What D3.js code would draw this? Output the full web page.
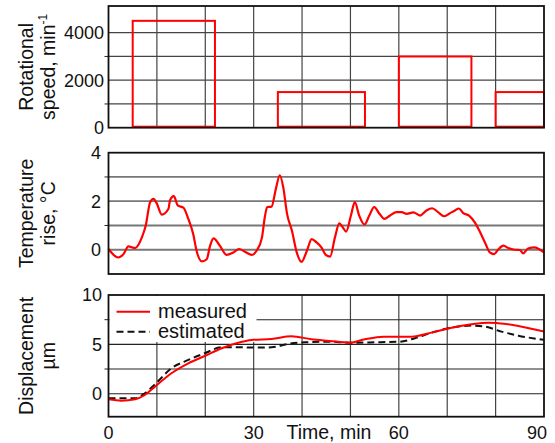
<!DOCTYPE html>
<html><head><meta charset="utf-8">
<script src="https://cdn.jsdelivr.net/npm/d3@7"></script>
<style>body{margin:0;background:#fff}svg{display:block;font-family:"Liberation Sans",Arial,sans-serif}</style>
</head><body><svg id="c" width="555" height="443"></svg>
<script>
// ---- data ----
const barStart = [5, 35, 60, 80];
const barEnd = [22, 53, 75, 90];
const barSpeed = [4500, 1500, 3000, 1500];

const tempTime = [0,2.0,3.1,4.1,5.5,6.9,7.7,8.6,9.3,10.0,11.0,12.4,12.7,13.5,14.3,15.5,16.5,17.5,18.2,19.3,20.3,21.0,21.7,23.0,24.4,25.8,27.0,28.2,29.6,30.6,31.7,32.3,32.8,33.7,34.6,35.4,36.1,36.9,37.9,38.9,39.9,41.0,42.0,43.0,44.0,44.9,45.8,46.8,47.7,48.4,49.1,50.1,50.9,51.8,52.9,53.9,54.9,56.0,57.0,58.2,59.5,60.6,61.6,63.0,64.4,65.7,66.9,68.1,69.4,70.6,71.6,72.4,73.3,74.5,75.7,76.8,77.8,78.8,79.7,80.5,81.6,82.6,84.0,85.0,85.7,86.7,88.1,89.2,90];
const tempRise = [0.03,-0.32,-0.18,0.14,0.07,0.51,1.0,1.96,2.1,1.9,1.45,1.69,2.03,2.21,1.83,1.73,1.27,0.65,-0.04,-0.48,-0.39,0.17,0.47,0.17,-0.21,-0.11,0.03,-0.08,-0.21,-0.04,0.49,1.34,1.76,1.78,2.52,3.07,2.59,1.48,0.79,-0.11,-0.5,-0.04,0.44,0.3,0.1,-0.21,-0.28,0.51,1.09,0.93,0.75,1.41,1.96,1.41,1.04,1.41,1.76,1.48,1.27,1.41,1.55,1.55,1.48,1.54,1.41,1.62,1.71,1.55,1.38,1.51,1.62,1.7,1.51,1.41,1.13,0.72,0.3,-0.11,-0.18,0,0.17,0.07,0,-0.01,-0.15,0.05,0.1,0,-0.11];

const measTime = [0,2.7,5.5,7.5,9.6,13.0,16.5,19.9,23.4,26.8,29.6,33.7,37.8,41.9,45.7,49.9,53.0,56.8,62.6,66.8,70.9,75.0,78.5,80.5,84.7,90];
const measDisp = [-0.57,-0.71,-0.57,-0.13,0.71,2.07,3.08,3.82,4.6,5.17,5.45,5.55,5.82,5.52,5.35,5.17,5.52,5.78,5.78,6.19,6.69,7.04,7.2,7.14,6.87,6.3];
const estTime = [0,5.5,7.5,9.6,13.0,16.5,19.9,23.4,26.8,30.3,33.7,37.1,40.6,45.7,49.9,55.0,60.2,63.3,66.8,70.9,75.0,77.8,81.2,84.7,90];
const estDisp = [-0.47,-0.47,0.04,0.95,2.57,3.42,4.1,4.7,4.7,4.67,4.7,5.04,5.21,5.27,5.17,5.21,5.27,5.62,6.19,6.7,6.9,6.8,6.29,5.88,5.45];

const xTickLabels = ["0", "30", "60", "90"];
const speedTicks = [0, 2000, 4000];
const tempTicks = [0, 2, 4];
const dispTicks = [0, 5, 10];
const legendLabels = ["measured", "estimated"];

// ---- layout ----
const svg = d3.select("#c");
const L = 108.5, R = 544;
const x = d3.scaleLinear().domain([0, 90]).range([L, R]);
const ySpeed = d3.scaleLinear().domain([0, 5125]).range([127.7, 6]);
const yTemp = d3.scaleLinear().domain([-1, 4]).range([274, 152.7]);
const yDisp = d3.scaleLinear().domain([-2.33, 10]).range([416.7, 295]);
const FS = 18;

function vgrid(y) {
  svg.append("g").selectAll("line").data(d3.range(10, 90, 10)).join("line")
    .attr("x1", d => x(d)).attr("x2", d => x(d))
    .attr("y1", y.range()[1]).attr("y2", y.range()[0])
    .attr("stroke", "#444").attr("stroke-width", 1.2);
}
function hgrid(y, vals, color, w) {
  svg.append("g").selectAll("line").data(vals).join("line")
    .attr("x1", L).attr("x2", R)
    .attr("y1", d => y(d)).attr("y2", d => y(d))
    .attr("stroke", color).attr("stroke-width", w);
}
function yaxis(y, minor, labels, fmt, labelX) {
  svg.append("g").selectAll("line").data(minor).join("line")
    .attr("x1", L - 4).attr("x2", L)
    .attr("y1", d => y(d)).attr("y2", d => y(d))
    .attr("stroke", "#222").attr("stroke-width", 1);
  svg.append("g").selectAll("text").data(labels).join("text")
    .attr("x", labelX).attr("y", d => y(d)).attr("dy", "0.36em")
    .attr("text-anchor", "end").attr("font-size", FS).attr("fill", "#111")
    .text(fmt);
}
function frame(y) {
  svg.append("rect").attr("x", L).attr("y", y.range()[1])
    .attr("width", R - L).attr("height", y.range()[0] - y.range()[1])
    .attr("fill", "none").attr("stroke", "#111").attr("stroke-width", 1.8);
}
function ytitle(lines, y) {
  const cy = (y.range()[0] + y.range()[1]) / 2;
  const g = svg.append("g");
  lines.forEach((ln, i) => {
    const t = g.append("text").attr("transform", `translate(${33 + i * 22},${cy}) rotate(-90)`)
      .attr("text-anchor", "middle").attr("font-size", 19.5).attr("fill", "#111");
    ln.forEach(part => {
      const ts = t.append("tspan").text(part.t);
      if (part.sup) ts.attr("font-size", 12).attr("dy", -8);
    });
  });
}

// top panel
vgrid(ySpeed);
hgrid(ySpeed, [1000, 2000, 3000, 4000], "#444", 1.2);
yaxis(ySpeed, [1000, 3000], speedTicks, d => d, 104);
svg.append("g").selectAll("rect").data(barSpeed).join("rect")
  .attr("x", (d, i) => x(barStart[i])).attr("width", (d, i) => x(barEnd[i]) - x(barStart[i]))
  .attr("y", d => ySpeed(d)).attr("height", d => ySpeed(0) - 1 - ySpeed(d))
  .attr("fill", "none").attr("stroke", "#ff0000").attr("stroke-width", 2);
frame(ySpeed);
ytitle([[{t: "Rotational"}], [{t: "speed, min"}, {t: "-1", sup: true}]], ySpeed);

// middle panel
hgrid(yTemp, [0, 1, 2, 3], "#777", 1.8);
yaxis(yTemp, [1, 3], tempTicks, d => d, 101);
svg.append("path").datum(tempRise)
  .attr("d", d3.line().x((d, i) => x(tempTime[i])).y(d => yTemp(d)).curve(d3.curveMonotoneX))
  .attr("fill", "none").attr("stroke", "#ff0000").attr("stroke-width", 2.2);
frame(yTemp);
ytitle([[{t: "Temperature"}], [{t: "rise, °C"}]], yTemp);

// bottom panel
vgrid(yDisp);
hgrid(yDisp, [0, 2.5, 5, 7.5], "#222", 1.1);
yaxis(yDisp, [2.5, 7.5], dispTicks, d => d, 102);
// legend background
svg.append("rect").attr("x", L + 1).attr("y", 296).attr("width", 147).attr("height", 46).attr("fill", "#fff");
svg.append("path").datum(estDisp)
  .attr("d", d3.line().x((d, i) => x(estTime[i])).y(d => yDisp(d)).curve(d3.curveMonotoneX))
  .attr("fill", "none").attr("stroke", "#111").attr("stroke-width", 2).attr("stroke-dasharray", "7,4");
svg.append("path").datum(measDisp)
  .attr("d", d3.line().x((d, i) => x(measTime[i])).y(d => yDisp(d)).curve(d3.curveMonotoneX))
  .attr("fill", "none").attr("stroke", "#ff0000").attr("stroke-width", 2);
frame(yDisp);
ytitle([[{t: "Displacement"}], [{t: "µm"}]], yDisp);

// legend
const lg = svg.append("g");
legendLabels.forEach((lab, i) => {
  const ly = 311.7 + i * 20;
  lg.append("line").attr("x1", 116.5).attr("x2", 150).attr("y1", ly).attr("y2", ly)
    .attr("stroke", i === 0 ? "#ff0000" : "#111").attr("stroke-width", 2)
    .attr("stroke-dasharray", i === 0 ? null : "7,4");
  lg.append("text").attr("x", 158).attr("y", ly).attr("dy", "0.33em")
    .attr("font-size", 20).attr("fill", "#111").text(lab);
});

// x axis labels
const xVals = xTickLabels.map(Number);
svg.append("g").selectAll("text").data(xTickLabels).join("text")
  .attr("x", (d, i) => i === 3 ? x(xVals[i]) + 3 : x(xVals[i])).attr("y", 439)
  .attr("text-anchor", (d, i) => i === 3 ? "end" : "middle")
  .attr("font-size", FS).attr("fill", "#111").text(d => d);
svg.append("text").attr("x", 286.5).attr("y", 439).attr("font-size", 19.5).attr("fill", "#111").text("Time, min");
</script></body></html>
